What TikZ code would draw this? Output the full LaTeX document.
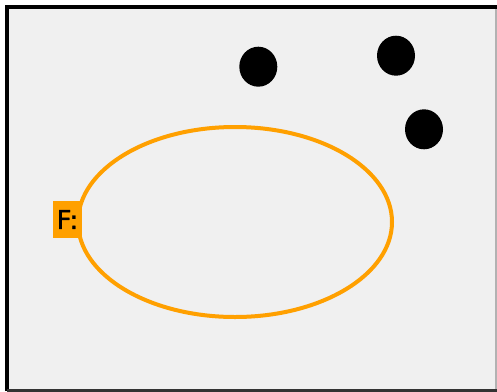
\documentclass[tikz,border=0pt]{standalone}
\usepackage{fontspec}
\setmainfont{DejaVu Sans}
\newfontfamily\labfont[FakeBold=1.2]{DejaVu Sans}
\usetikzlibrary{shapes.geometric}
\definecolor{bg}{RGB}{240,240,240}
\definecolor{orng}{RGB}{255,160,0}
\begin{document}
\begin{tikzpicture}[x=1pt,y=-1pt,
  dot/.style={fill=black,ellipse,minimum width=38pt,minimum height=40pt,inner sep=0pt},
  lab/.style={fill=orng,inner sep=0pt,minimum width=29pt,minimum height=37pt,font=\labfont\fontsize{26}{26}\selectfont}]
\useasboundingbox (0,0) rectangle (497,391);
\fill[bg] (7,7) rectangle (497,391);
\draw[gray!60,line width=1.5pt] (496,7) -- (496,391);
\draw[black,line width=4pt] (7,391) -- (7,7) -- (497,7);
\draw[black!80,line width=3pt] (7,390) -- (497,390);
\node[dot] (d1) at (258.3,66.7) {};
\node[dot] (d2) at (396,55.7) {};
\node[dot] (d3) at (424,129.3) {};
\node[draw=orng,line width=4pt,ellipse,minimum width=314pt,minimum height=190pt,inner sep=0pt] (E) at (235,222) {};
\node[lab] (F) at (67.5,219.5) {F:};
\end{tikzpicture}
\end{document}
